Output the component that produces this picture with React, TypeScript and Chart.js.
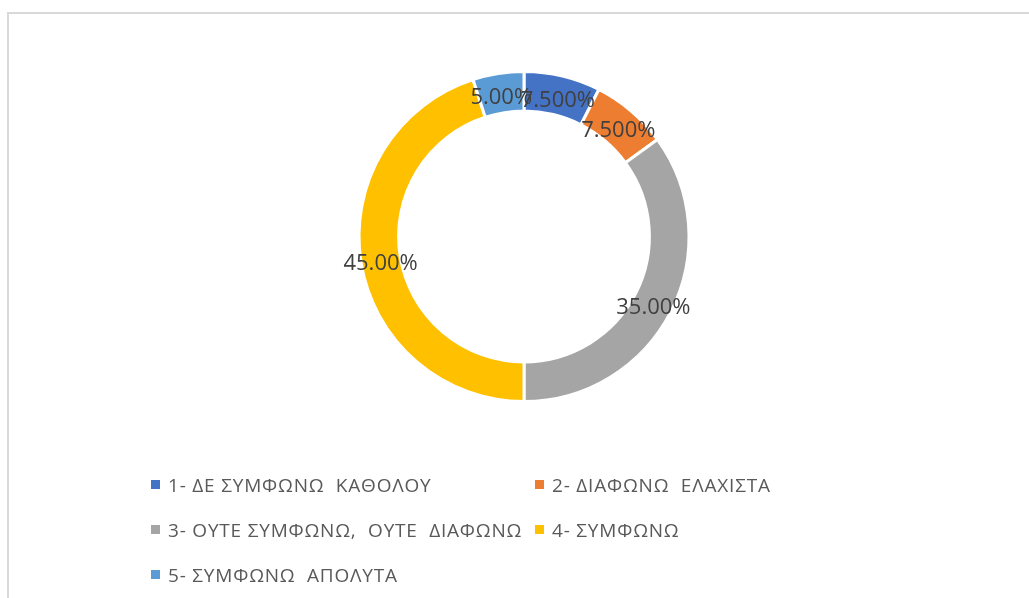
import React, { useEffect, useRef } from "react";
import { Chart, registerables } from "chart.js";

Chart.register(...registerables);

const categories = [
  "1- ΔΕ ΣΥΜΦΩΝΩ  ΚΑΘΟΛΟΥ",
  "2- ΔΙΑΦΩΝΩ  ΕΛΑΧΙΣΤΑ",
  "3- ΟΥΤΕ ΣΥΜΦΩΝΩ,  ΟΥΤΕ  ΔΙΑΦΩΝΩ",
  "4- ΣΥΜΦΩΝΩ",
  "5- ΣΥΜΦΩΝΩ  ΑΠΟΛΥΤΑ",
];
const values = [7.5, 7.5, 35, 45, 5];
const valueLabels = ["7.500%", "7.500%", "35.00%", "45.00%", "5.00%"];
const colors = ["#4472C4", "#ED7D31", "#A5A5A5", "#FFC000", "#5B9BD5"];

const FONT = "'Open Sans', 'Liberation Sans', sans-serif";

const labelPlugin = {
  id: "sliceLabels",
  afterDatasetsDraw(chart: any) {
    const ctx = chart.ctx;
    const meta = chart.getDatasetMeta(0);
    ctx.save();
    ctx.font = `22px ${FONT}`;
    ctx.fillStyle = "#404040";
    ctx.textAlign = "center";
    ctx.textBaseline = "middle";
    meta.data.forEach((arc: any, i: number) => {
      const p = arc.tooltipPosition();
      ctx.fillText(valueLabels[i], p.x, p.y + 5);
    });
    ctx.restore();
  },
};

const legendPlugin = {
  id: "gridLegend",
  afterDraw(chart: any) {
    const ctx = chart.ctx;
    const labels = chart.data.labels as string[];
    const bg = chart.data.datasets[0].backgroundColor as string[];
    const colX = [151, 535];
    const rowY = [485, 530, 575];
    ctx.save();
    ctx.font = `19px ${FONT}`;
    (ctx as any).letterSpacing = "0.8px";
    ctx.textAlign = "left";
    ctx.textBaseline = "middle";
    labels.forEach((t, i) => {
      const x = colX[i % 2];
      const y = rowY[Math.floor(i / 2)];
      ctx.fillStyle = bg[i];
      ctx.fillRect(x, y - 5, 9, 9);
      ctx.fillStyle = "#595959";
      ctx.fillText(t, x + 17, y + 2);
    });
    ctx.restore();
  },
};

export default function App() {
  const ref = useRef<HTMLCanvasElement>(null);
  useEffect(() => {
    if (!ref.current) return;
    const chart = new Chart(ref.current, {
      type: "doughnut",
      data: {
        labels: categories,
        datasets: [
          {
            data: values,
            backgroundColor: colors,
            borderColor: "#ffffff",
            borderWidth: 3,
          },
        ],
      },
      options: {
        responsive: false,
        animation: false,
        cutout: "76%",
        layout: { padding: { top: 70, bottom: 195, left: 119, right: 100 } },
        plugins: {
          legend: { display: false },
          tooltip: { enabled: false },
        },
      },
      plugins: [labelPlugin, legendPlugin],
    });
    return () => chart.destroy();
  }, []);
  return (
    <>
      <div
        style={{
          position: "fixed",
          left: 7,
          top: 12,
          width: 1040,
          height: 620,
          borderTop: "2px solid #d9d9d9",
          borderLeft: "2px solid #d9d9d9",
          background: "#fff",
        }}
      />
      <canvas
        ref={ref}
        width={1029}
        height={598}
        style={{ position: "fixed", left: 0, top: 0, width: 1029, height: 598 }}
      />
    </>
  );
}
